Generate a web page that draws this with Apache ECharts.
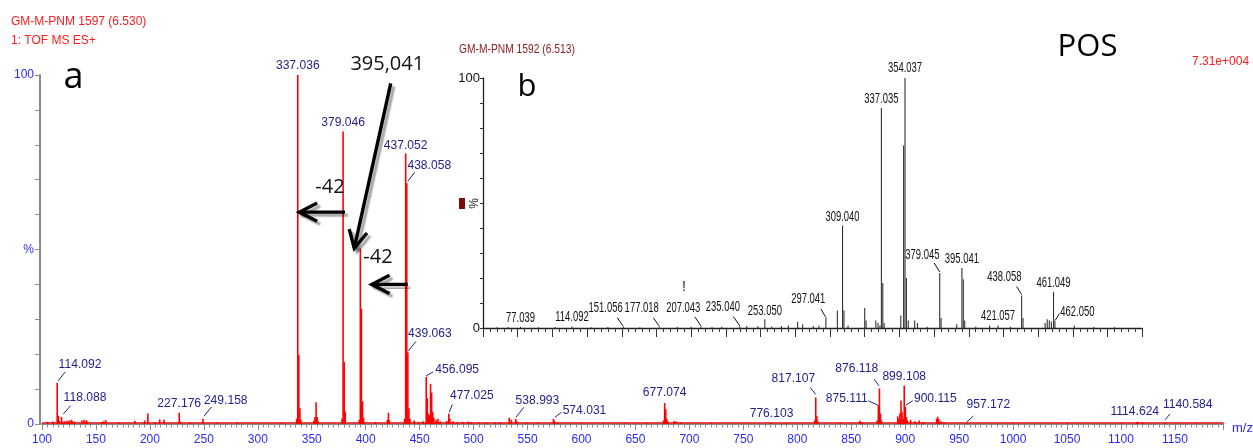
<!DOCTYPE html>
<html><head><meta charset="utf-8">
<script src="https://cdn.jsdelivr.net/npm/echarts/dist/echarts.min.js"></script>
<style>html,body{margin:0;padding:0;background:#fff}#c{width:1253px;height:448px}</style>
</head><body><div id="c"></div>
<script>
// ---------------- DATA ----------------
// Spectrum a (main, red): [m/z, relative intensity %]
const mainPeaks = [
[105.1,0.6],[110.0,0.7],
[114.092,11.8],[115.09,2.4],[116.1,0.9],[118.088,2.0],[119.09,0.7],
[121.0,0.8],[123.1,0.9],[125.0,1.0],[127.1,1.2],[128.0,0.9],[130.1,0.7],
[137.1,1.0],[139.0,1.2],[141.1,1.1],[142.0,0.7],[155.1,0.6],[157.1,0.8],[159.0,1.1],
[171.1,0.5],[186.0,0.9],[195.1,1.0],[198.1,3.0],[205,0.5],[209.1,1.3],[213.1,1.2],
[227.176,3.2],[228.2,0.7],[237,0.4],[249.158,1.5],[262,0.4],[281,0.4],
[322,0.4],[336.0,1.5],[337.036,100],[338.04,19.8],[339.04,4.5],[340.0,1.2],
[352.0,1.0],[353.0,2.0],[354.04,6.2],[355.04,2.0],[356.0,0.8],
[378.0,1.5],[379.046,83.8],[380.05,17.8],[381.05,3.5],
[394.0,1.2],[395.041,50.3],[396.04,33],[397.05,6.5],[398.0,1.8],
[409,0.6],[420.1,1.2],[421.1,3.2],[422.1,1.0],
[436.0,1.5],[437.052,77.5],[438.058,69],[439.063,20.5],[440.06,4.5],[441.0,1.5],
[445,1.0],[449,0.6],[453,0.8],[456.095,13.5],[457.1,7.4],[458.1,3.0],[459.1,2.5],[460.1,11.5],[461.1,9.0],[462.1,3.5],[463.1,1.8],[465.1,1.2],[467,1.5],[469,0.7],
[475,0.9],[477.025,3.0],[478.0,1.5],[481,0.8],[485,0.6],[490,0.5],[495,0.7],[498,0.6],[505,0.4],[512,0.4],[520,0.5],[525,0.5],
[533.0,1.8],[535,1.2],[538.993,1.5],[540,0.8],[549,0.4],[560,0.4],[574.031,1.5],[575,0.9],[578,0.5],
[600,0.3],[620,0.3],[640,0.3],[660,0.5],
[676.0,1.0],[677.074,6.0],[678.08,4.2],[679.0,1.5],[680,0.8],[686,0.9],[688,0.7],[692,0.4],
[720,0.3],[776.103,0.3],[790,0.3],
[816.1,1.0],[817.107,7.6],[818.1,2.2],[819.1,0.8],[840,0.4],[858,0.9],[860,0.6],
[874.1,1.0],[875.111,5.4],[876.118,10.2],[877.1,3.0],[878.1,1.0],
[893.1,2.2],[894,1.5],[895.1,3.0],[896.1,6.7],[897.1,3.5],[898.1,1.5],[899.108,11],[900.115,5.0],[901.1,2.0],[902,1.0],[905,1.2],[909,0.8],[913,1.0],[917,0.6],
[929.1,1.5],[930.1,2.1],[931.1,1.4],[933,0.8],[936,0.5],[957.172,0.3],
[1000,0.3],[1050,0.3],[1100,0.3],[1114.624,0.6],[1116,0.6],[1120,0.4],[1140.584,0.3],[1170,0.3]
];
const mainLabels = [114.092,118.088,227.176,249.158,337.036,379.046,437.052,438.058,439.063,456.095,477.025,538.993,574.031,677.074,776.103,817.107,875.111,876.118,899.108,900.115,957.172,1114.624,1140.584];

// Spectrum b (inset, black)
const insetPeaks = [
[60,0.3],[68,0.4],[77.039,0.5],[90,0.3],[102,0.4],[114.092,0.6],[128,0.3],[140,0.4],[151.056,0.5],[163,0.3],[177.018,0.5],[190,0.4],[200,0.5],[207.043,0.6],[215,0.4],[222,0.5],[235.04,0.6],[240,0.8],[248,0.7],[253.05,3.5],[258,0.6],[265,0.8],[270,1.0],[276.7,2.5],[280.3,1.5],[288,0.8],[292,1.0],[297.041,4.0],
[305.3,7],[309.04,41],[310.04,7],[313,1.0],[325,8],[326,3],[333,3],[334.6,2],[336,1],[337.035,88],[338.04,18],[339,2],
[351,5],[353.03,73],[354.037,100],[355.04,20],[356.4,3],[361,3],[363,2],[370,0.5],
[379.045,22],[380.05,4],[391.3,1.5],[395.041,24],[396.04,19.5],[397.04,3],[405,0.5],[415,1],[421.057,1],[430,0.5],
[438.058,13],[439.06,4],[455,2],[456.5,3.5],[458,3],[459.5,2.5],[461.049,14.5],[462.05,3],[476,1],[490,0.4],[505,0.3]
];
const insetLabels = [77.039,114.092,151.056,177.018,207.043,235.04,253.05,297.041,309.04,337.035,354.037,379.045,395.041,421.057,438.058,461.049,462.05];

// Annotations in data coordinates of spectrum a
const arrowLines = [[423.2,97.6,389.4,50.3],[380.8,60.7,338.5,60.7],[438.9,40.0,405.6,40.0]];
const noteTexts = ['395,041','-42','-42'];
const notePoints = [[420.0,103.2],[366.9,67.8],[411.4,47.7]];
const insetNoteTexts = ['!'];
const insetNotePoints = [[194.8,16.5]];

// ---------------- LAYOUT / STYLE (label offsets in px) ----------------
const mainLabelLayout = [
[22.8,-18.7,[1,-2,8,-11]],[23.5,-19.7,[1.8,-3,9,-11.3]],[0,-9.5,null],[22.8,-18,[1,-2.5,8.7,-12]],
[0,-10,null],[0,-9,null],[0,-8,null],[22.5,-17.8,[1,-2,8,-11]],[22,-19,[0.5,-1.5,8,-11]],
[31,-7,[0,-1,7,-5]],[23,-18.5,[0.5,-1.5,3.5,-9]],[21.8,-18,[0.3,-1.5,8.3,-11.5]],[31,-8,[1.5,-1.5,8,-6.5]],
[0,-10.7,null],[0,-10,null],[-22.4,-19,[0,-3,-5.5,-10]],[-31.6,-6.8,[-0.5,0,-10,-4.4]],[-22.7,-20,[-0.4,-2.6,-5.4,-9.3]],
[0,-9.2,null],[30,-8,[0.7,-1.5,7.4,-5.8]],[21.5,-19,[0,-1,6.5,-7]],[-2,-10,null],[23,-19,[0.2,-3,5.2,-9]]
];
const insetLabelLayout = [
[0,-8.5,null],[0,-10,null],[-17.6,-18.4,[0,-0.5,-6,-9]],[-17.6,-18.7,[0,-0.5,-6,-9]],[-17.7,-19,[0,-0.5,-6,-9.5]],
[-17,-19.5,[0,-0.5,-6.5,-10]],[0,-8,null],[-17.6,-18.7,[0,-0.5,-5,-9]],[0,-9,null],[0,-8.7,null],[0,-9.7,null],
[-17.4,-18,[0,-1,-5.5,-10]],[0,-8.7,null],[0,-9.5,null],[-17.3,-18.2,[0,-1,-5,-9]],[0,-8.5,null],[22.5,-9,[0.5,-0.5,4.5,-7]]
];

const RED = '#ff0000', NAVY = '#22228f', BLUE = '#2a2aff', GREY = '#8a8a8a';
const F_MAIN = "13px 'Liberation Sans', Arial, sans-serif";
const F_INSET = "15px 'Liberation Sans', Arial, sans-serif";
const F_NOTE = "20px 'Open Sans', 'DejaVu Sans', sans-serif";

function stickSeries(data, ai, color, width, z) {
  return {
    type: 'custom', xAxisIndex: ai, yAxisIndex: ai, data: data, silent: true, clip: false, z: z,
    renderItem: function (params, api) {
      const x = api.value(0), h = api.value(1);
      const p0 = api.coord([x, 0]), p1 = api.coord([x, h]);
      return { type: 'line', shape: { x1: p0[0], y1: p0[1], x2: p1[0], y2: p1[1] },
        style: { stroke: color, lineWidth: width } };
    }
  };
}
function labelSeries(labels, layout, peaks, ai, opt) {
  const hOf = new Map(peaks.map(function (p) { return [p[0], p[1]]; }));
  return {
    type: 'custom', xAxisIndex: ai, yAxisIndex: ai, clip: false, silent: true, z: 6,
    data: labels.map(function (m) { return [m, hOf.get(m)]; }),
    renderItem: function (params, api) {
      const i = params.dataIndex, L = layout[i];
      const p = api.coord([api.value(0), api.value(1)]);
      const ch = [{ type: 'text', x: p[0] + L[0], y: p[1] + L[1], scaleX: opt.scaleX,
        style: { text: labels[i].toFixed(3), font: opt.font, fill: opt.color, align: 'center', verticalAlign: 'middle' } }];
      if (L[2]) ch.push({ type: 'line', shape: { x1: p[0] + L[2][0], y1: p[1] + L[2][1], x2: p[0] + L[2][2], y2: p[1] + L[2][3] },
        style: { stroke: opt.color, lineWidth: 1 } });
      return { type: 'group', children: ch };
    }
  };
}
function textSeries(points, texts, ai, font, color) {
  return {
    type: 'custom', xAxisIndex: ai, yAxisIndex: ai, clip: false, silent: true, z: 8, data: points,
    renderItem: function (params, api) {
      const p = api.coord([api.value(0), api.value(1)]);
      return { type: 'text', x: p[0], y: p[1],
        style: { text: texts[params.dataIndex], font: font, fill: color, align: 'center', verticalAlign: 'middle' } };
    }
  };
}
const arrowSeries = {
  type: 'custom', xAxisIndex: 0, yAxisIndex: 0, clip: false, silent: true, z: 9, data: arrowLines,
  renderItem: function (params, api) {
    const a = api.coord([api.value(0), api.value(1)]), b = api.coord([api.value(2), api.value(3)]);
    const dx = b[0] - a[0], dy = b[1] - a[1], len = Math.hypot(dx, dy);
    const vx = -dx / len, vy = -dy / len, L = 20, th = 27 * Math.PI / 180;
    function arm(s) { const c = Math.cos(s * th), sn = Math.sin(s * th);
      return [b[0] + L * (vx * c - vy * sn), b[1] + L * (vx * sn + vy * c)]; }
    const st = { stroke: '#000', lineWidth: 3.4, fill: null, lineJoin: 'miter',
      shadowColor: 'rgba(0,0,0,0.35)', shadowOffsetX: 3, shadowOffsetY: 3, shadowBlur: 1.5 };
    return { type: 'group', children: [
      { type: 'line', shape: { x1: a[0], y1: a[1], x2: b[0], y2: b[1] }, style: st },
      { type: 'polyline', shape: { points: [arm(1), b, arm(-1)] }, style: st }
    ] };
  }
};

const chart = echarts.init(document.getElementById('c'), null, { renderer: 'canvas' });
chart.setOption({
  animation: false,
  backgroundColor: '#fff',
  grid: [
    { left: 42, top: 75, width: 1181.5, height: 349 },
    { left: 483, top: 78, width: 659.3, height: 250 }
  ],
  xAxis: [
    { type: 'value', gridIndex: 0, min: 100, max: 1195, interval: 50, offset: 3,
      axisLine: { lineStyle: { color: GREY, width: 2 } },
      axisTick: { length: 6, lineStyle: { color: GREY, width: 1 } },
      minorTick: { show: true, splitNumber: 10, length: 3.5, lineStyle: { color: GREY, width: 1 } },
      splitLine: { show: false },
      axisLabel: { color: BLUE, fontSize: 12, fontFamily: 'Liberation Sans', margin: 7, showMaxLabel: false,
        formatter: function (v) { return String(v); } } },
    { type: 'value', gridIndex: 1, min: 50, max: 525, interval: 25,
      axisLine: { lineStyle: { color: '#222', width: 1.3 } },
      axisTick: { length: 9, lineStyle: { color: '#333', width: 1 } },
      minorTick: { show: true, splitNumber: 5, length: 4, lineStyle: { color: '#333', width: 1 } },
      splitLine: { show: false }, axisLabel: { show: false } }
  ],
  yAxis: [
    { type: 'value', gridIndex: 0, min: 0, max: 100, interval: 10, offset: 2,
      axisLine: { show: true, lineStyle: { color: GREY, width: 2 } },
      axisTick: { show: true, length: 5, lineStyle: { color: GREY, width: 1 } },
      splitLine: { show: false },
      axisLabel: { color: BLUE, fontSize: 12, fontFamily: 'Liberation Sans', margin: 6,
        formatter: function (v) { return v === 0 ? '0' : v === 100 ? '100' : v === 50 ? '%' : ''; } } },
    { type: 'value', gridIndex: 1, min: 0, max: 100, interval: 10,
      axisLine: { show: true, lineStyle: { color: '#222', width: 1.3 } },
      axisTick: { show: true, length: 3, lineStyle: { color: '#333', width: 1 } },
      splitLine: { show: false },
      axisLabel: { color: '#111', fontSize: 13, fontFamily: "'Liberation Sans Narrow', 'Liberation Sans'", margin: 3,
        formatter: function (v) { return v === 0 ? '0' : v === 100 ? '100' : ''; } } }
  ],
  series: [
    { type: 'line', xAxisIndex: 0, yAxisIndex: 0, data: [[100, 0.3], [1195, 0.3]], symbol: 'none', silent: true,
      lineStyle: { color: RED, width: 1.3 }, z: 2 },
    stickSeries(mainPeaks, 0, RED, 1.6, 3),
    stickSeries(insetPeaks, 1, '#333', 1.1, 3),
    labelSeries(mainLabels, mainLabelLayout, mainPeaks, 0, { font: F_MAIN, color: NAVY, scaleX: 0.93 }),
    labelSeries(insetLabels, insetLabelLayout, insetPeaks, 1, { font: F_INSET, color: '#111', scaleX: 0.63 }),
    textSeries(notePoints, noteTexts, 0, F_NOTE, '#111'),
    textSeries(insetNotePoints, insetNoteTexts, 1, "14px 'Liberation Sans', sans-serif", '#222'),
    arrowSeries
  ],
  graphic: [
    { type: 'text', x: 11, y: 22, style: { text: 'GM-M-PNM 1597 (6.530)', font: "12px 'Liberation Sans', Arial, sans-serif", fill: '#ff1a1a', verticalAlign: 'middle' } },
    { type: 'text', x: 11, y: 41, style: { text: '1: TOF MS ES+', font: "12px 'Liberation Sans', Arial, sans-serif", fill: '#ff1a1a', verticalAlign: 'middle' } },
    { type: 'text', x: 1192, y: 61.5, style: { text: '7.31e+004', font: "12px 'Liberation Sans', Arial, sans-serif", fill: '#ff1a1a', verticalAlign: 'middle' } },
    { type: 'text', x: 459, y: 49.5, scaleX: 0.79, style: { text: 'GM-M-PNM 1592 (6.513)', font: "13px 'Liberation Sans', Arial, sans-serif", fill: '#8b1c1c', verticalAlign: 'middle' } },
    { type: 'text', x: 73.5, y: 78, style: { text: 'a', font: "36px 'Open Sans', sans-serif", fill: '#000', align: 'center', verticalAlign: 'middle' } },
    { type: 'text', x: 527, y: 87, style: { text: 'b', font: "31px 'Open Sans', sans-serif", fill: '#000', align: 'center', verticalAlign: 'middle' } },
    { type: 'text', x: 1087.5, y: 47, style: { text: 'POS', font: "31px 'Open Sans', sans-serif", fill: '#000', align: 'center', verticalAlign: 'middle' } },
    { type: 'text', x: 1232, y: 428, style: { text: 'm/z', font: "13px 'Liberation Sans', Arial, sans-serif", fill: BLUE, verticalAlign: 'middle' } },
    { type: 'rect', shape: { x: 459, y: 198, width: 6, height: 11 }, style: { fill: '#7a0c0c' } },
    { type: 'text', x: 475, y: 203.5, rotation: Math.PI / 2, style: { text: '%', font: "12px 'Liberation Sans', sans-serif", fill: '#222', align: 'center', verticalAlign: 'middle' } }
  ]
});
</script></body></html>
